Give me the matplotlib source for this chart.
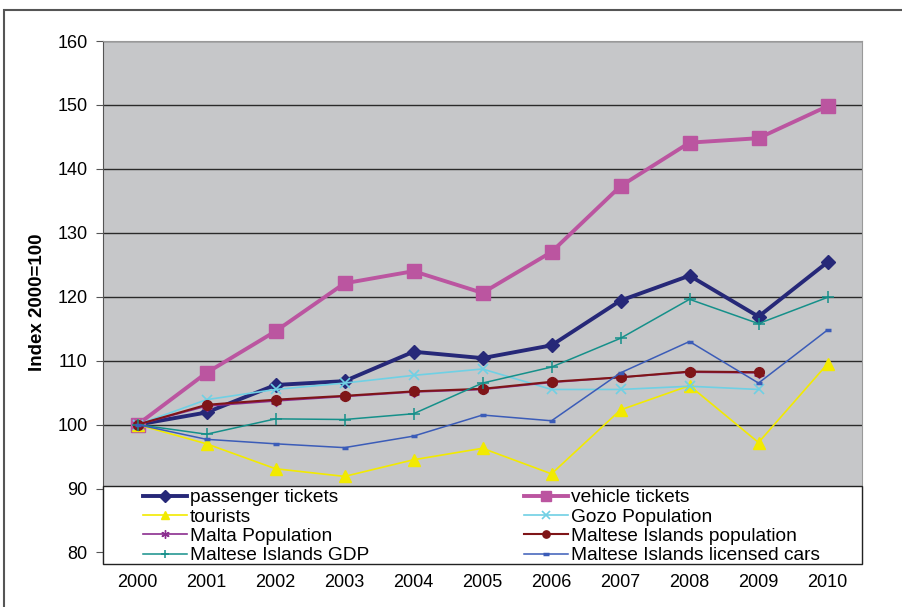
import matplotlib.pyplot as plt
import numpy as np
from matplotlib.patches import Rectangle

# anos e indices (2000 = 100)
anos = [2000, 2001, 2002, 2003, 2004, 2005, 2006, 2007, 2008, 2009, 2010]
passenger = [100, 101.9, 106.2, 106.8, 111.4, 110.4, 112.4, 119.4, 123.3, 116.9, 125.4]
vehicle = [100, 108.1, 114.6, 122.1, 124.0, 120.6, 127.0, 137.3, 144.1, 144.8, 149.8]
tourists = [100, 97.0, 93.1, 91.9, 94.5, 96.3, 92.3, 102.3, 106.1, 97.2, 109.5]
gozo_pop = [100, 103.9, 105.5, 106.5, 107.7, 108.7, 105.5, 105.5, 106.0, 105.5, np.nan]
malta_pop = [100, 102.9, 103.7, 104.4, 105.1, 105.5, 106.6, 107.4, 108.2, 108.1, np.nan]
islands_pop = [100, 103.1, 103.9, 104.5, 105.2, 105.6, 106.7, 107.4, 108.3, 108.2, np.nan]
gdp = [100, 98.5, 100.9, 100.8, 101.7, 106.5, 109.0, 113.5, 119.6, 115.8, 119.9]
cars = [100, 97.7, 97.0, 96.4, 98.2, 101.5, 100.6, 108.1, 113.0, 106.5, 114.8]

nomes = ['passenger tickets', 'vehicle tickets', 'tourists', 'Gozo Population',
         'Malta Population', 'Maltese Islands population', 'Maltese Islands GDP',
         'Maltese Islands licensed cars']

plt.rcParams['font.family'] = ['Liberation Sans', 'DejaVu Sans']

W, H = 902, 607
fig = plt.figure(figsize=(W / 100, H / 100), dpi=100)
ax = fig.add_axes([103 / W, 43 / H, 759 / W, 523 / H])
ax.set_facecolor('#c6c7c9')

linhas = []
linhas += ax.plot(anos, passenger, color='#262878', lw=2.8, marker='D', ms=7.5)
linhas += ax.plot(anos, vehicle, color='#bb55a0', lw=2.8, marker='s', ms=9.5)
linhas += ax.plot(anos, tourists, color='#f2ea00', lw=1.2, marker='^', ms=8.5)
linhas += ax.plot(anos, gozo_pop, color='#6fd0e4', lw=1.2, marker='x', ms=7, mew=1.2)
linhas += ax.plot(anos, malta_pop, color='#8b2d8f', lw=1.2, marker=(6, 2, 0), ms=8, mew=1)
linhas += ax.plot(anos, islands_pop, color='#7f1518', lw=1.5, marker='o', ms=7)
linhas += ax.plot(anos, gdp, color='#15908a', lw=1.1, marker='+', ms=8, mew=1.1)
linhas += ax.plot(anos, cars, color='#3b5cb8', lw=1.1, marker='_', ms=5, mew=2.5)

ax.set_xlim(1999.5, 2010.5)
ax.set_ylim(78.2, 160)
ax.set_yticks(np.arange(80, 161, 10))
ax.set_xticks(anos)
ax.grid(axis='y', color='#2a2a2a', lw=1)
ax.set_axisbelow(True)
ax.tick_params(axis='y', length=5, color='#555555', labelsize=13, pad=6)
ax.tick_params(axis='x', length=0, labelsize=13, pad=7)
for s in ['top', 'right']:
    ax.spines[s].set_color('#999999')
ax.spines['left'].set_color('#555555')
ax.spines['bottom'].set_visible(False)
ax.set_ylabel('Index 2000=100', fontsize=13.5, fontweight='bold', labelpad=8)

# moldura externa
fig.add_artist(Rectangle((4 / W, -0.1), 1.0, 1 - 10 / H + 0.1, transform=fig.transFigure,
                         fill=False, edgecolor='#555555', lw=1.5))

# caixa da legenda sobre o eixo
fig.add_artist(Rectangle((103 / W, 43 / H), 759 / W, 78 / H, transform=fig.transFigure,
                         facecolor='white', edgecolor='#222222', lw=1, zorder=4))

leg_kw = dict(loc='upper left', frameon=False, fontsize=13.8, borderpad=0,
              borderaxespad=0, handlelength=2.3, handletextpad=0.15, labelspacing=0.1,
              markerscale=0.75)
col1 = [0, 2, 4, 6]
col2 = [1, 3, 5, 7]
l1 = fig.legend([linhas[i] for i in col1], [nomes[i] for i in col1],
                bbox_to_anchor=(143 / W, (H - 489) / H), **leg_kw)
l2 = fig.legend([linhas[i] for i in col2], [nomes[i] for i in col2],
                bbox_to_anchor=(524 / W, (H - 489) / H), **leg_kw)
l1.set_zorder(5)
l2.set_zorder(5)

plt.savefig('out.png', dpi=100)
